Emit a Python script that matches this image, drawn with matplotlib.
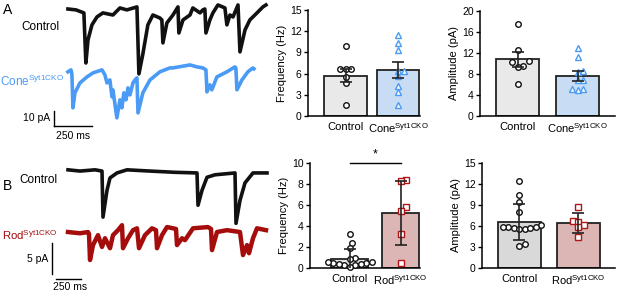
import numpy as np
import matplotlib
matplotlib.use("Agg")
import matplotlib.pyplot as plt

plt.rcParams['font.family'] = ['Liberation Sans', 'DejaVu Sans']
plt.rcParams['mathtext.fontset'] = 'custom'
plt.rcParams['mathtext.rm'] = 'Liberation Sans'

# ---------------- trace data (time ms, current pA) ----------------
ctrlA_t = [0, 53, 105, 118, 132, 158, 191, 230, 296, 342, 388, 454, 467, 493, 526, 559, 605, 618, 625, 651,
           691, 724, 730, 757, 803, 822, 869, 888, 901, 908, 934, 954, 987, 1033, 1046, 1066, 1086, 1119,
           1132, 1165, 1197, 1244, 1283, 1303]
ctrlA_i = [1.3, 0.7, -1.3, -34.7, -19.3, -9.3, -4.0, -1.3, -2.7, 2.0, 0.7, 2.7, -42.0, -28.7, -9.3, -2.7, -4.7,
           -6.0, -21.3, -8.0, -2.7, 2.7, -14.7, -6.0, -2.7, 2.0, -1.3, 0.7, 1.3, -14.7, -6.0, -1.3, 4.0, 2.0,
           -9.3, -2.7, -4.0, 4.0, -27.3, -12.7, -6.0, -1.3, 2.7, 4.0]
coneA_t = [0, 20, 26, 33, 46, 79, 125, 165, 224, 243, 257, 276, 290, 296, 322, 342, 355, 368, 382, 395, 408,
           428, 441, 454, 461, 493, 540, 605, 671, 691, 803, 849, 888, 908, 915, 934, 947, 980, 1046, 1099,
           1105, 1112, 1145, 1184, 1217, 1224]
coneA_i = [-1.3, 0.0, -2.7, -25.3, -15.3, -8.7, -4.7, -2.0, 0.0, -3.3, -8.7, -6.7, -18.0, -13.3, -32.0, -20.0,
           -25.3, -15.3, -20.0, -12.0, -16.7, -8.7, -6.7, -5.3, -28.7, -15.3, -6.7, -1.3, 1.3, 1.3, 3.3, 2.0,
           1.3, 0.0, -14.7, -10.0, -13.3, -4.7, -1.3, 2.0, 1.3, -13.3, -6.7, -1.3, 1.3, 0.7]
ctrlB_t = [0, 120, 270, 340, 350, 390, 420, 490, 590, 820, 1070, 1290, 1300, 1340, 1390, 1470, 1670, 1680,
           1720, 1770, 1850, 1990]
ctrlB_i = [0.2, 0.0, 0.2, 0.0, -7.4, -3.1, -1.1, -0.3, 0.2, 0.0, -0.2, -0.3, -5.5, -3.1, -1.0, -0.6, -0.3,
           -8.4, -4.7, -1.9, -0.3, -0.3]
rodB_t = [0, 120, 200, 210, 220, 250, 300, 340, 370, 420, 450, 500, 540, 550, 600, 650, 690, 710, 770, 840,
          880, 890, 940, 990, 1080, 1090, 1140, 1170, 1250, 1400, 1430, 1440, 1490, 1590, 1720, 1750, 1790,
          1810, 1850, 1890, 1980]
rodB_i = [0.0, -0.2, 0.0, -0.3, -4.5, -2.1, -0.5, -2.4, -1.0, -2.6, -0.5, 0.3, 1.1, -2.6, -1.0, 0.3, 0.6, -2.6,
          -0.5, 0.6, 0.3, -2.6, -0.5, 0.8, 0.5, -2.1, -1.0, -1.3, 0.6, 0.8, 0.5, -2.9, 0.0, 0.3, 0.0, -3.7,
          -2.1, -3.4, -1.0, 0.6, 0.3]

# ---------------- bar chart data ----------------
groupsA = ['Control', r'Cone$^{\mathrm{Syt1CKO}}$']
groupsB = ['Control', r'Rod$^{\mathrm{Syt1CKO}}$']

freqA_ctrl = [9.9, 6.6, 6.6, 6.6, 5.5, 4.6, 1.5]
freqA_cone = [11.4, 10.4, 9.4, 6.4, 6.4, 5.6, 4.3, 3.4, 1.6]
freqA_mean = [5.7, 6.5]
freqA_err = [0.9, 1.1]

ampA_ctrl = [17.5, 12.6, 10.4, 10.2, 9.5, 9.4, 6.1]
ampA_cone = [13.0, 11.3, 8.6, 8.4, 6.9, 6.8, 5.2, 4.9, 5.1]
ampA_mean = [10.8, 7.7]
ampA_err = [1.4, 0.95]

freqB_ctrl = [3.2, 2.4, 1.9, 1.0, 0.9, 0.55, 0.45, 0.35, 0.3, 0.3, 0.35, 0.45, 0.55, 0.05]
freqB_rod = [8.4, 8.3, 5.85, 5.4, 3.2, 0.47]
freqB_mean = [0.85, 5.25]
freqB_err = [1.0, 3.05]

ampB_ctrl = [12.4, 10.5, 9.4, 8.0, 6.2, 5.9, 5.8, 5.7, 5.6, 5.6, 5.7, 5.9, 3.5, 3.2]
ampB_rod = [8.7, 6.7, 6.6, 6.2, 5.8, 4.4]
ampB_mean = [6.55, 6.4]
ampB_err = [2.6, 1.45]

W, H = 617, 293
fig = plt.figure(figsize=(W / 100, H / 100), dpi=100)


def px_axes(x0, y0, x1, y1):
    return fig.add_axes([x0 / W, 1 - y1 / H, (x1 - x0) / W, (y1 - y0) / H])


BLACK = '#111111'
BLUE = '#4a9bf5'
RED = '#a50d0d'

# ---------------- Trace panel A ----------------
axA = px_axes(0, 0, 300, 145)
axA.set_xlim(-447, 1527)
axA.set_ylim(-89.4, 7.3)
axA.axis('off')
offA = -39.3
axA.plot(ctrlA_t, ctrlA_i, color=BLACK, lw=2.6)
axA.plot(coneA_t, np.array(coneA_i) + offA, color=BLUE, lw=2.6)
axA.plot([-92, -92], [-66.7, -76.7], color='k', lw=1.0, clip_on=False)
axA.plot([-92, 158], [-76.7, -76.7], color='k', lw=1.0, clip_on=False)
axA.text(-120, -71.4, '10 pA', ha='right', va='center', fontsize=7.5)
axA.text(33, -80, '250 ms', ha='center', va='top', fontsize=7.5)
axA.text(-53, -10.7, 'Control', ha='right', va='center', fontsize=8.5)
axA.text(-26, -47, r'Cone$^{\mathrm{Syt1CKO}}$', ha='right', va='center', fontsize=8.5, color=BLUE)

# ---------------- Trace panel B ----------------
axB = px_axes(0, 145, 300, 293)
axB.set_xlim(-680, 2320)
axB.set_ylim(-19.6, 4.19)
axB.axis('off')
offB = -9.8
axB.plot(ctrlB_t, ctrlB_i, color=BLACK, lw=2.6)
axB.plot(rodB_t, np.array(rodB_i) + offB, color=RED, lw=3.2)
axB.plot([-160, -160], [-11.6, -16.6], color='k', lw=1.0, clip_on=False)
axB.plot([-120, 130], [-17.4, -17.4], color='k', lw=1.0, clip_on=False)
axB.text(-200, -14.2, '5 pA', ha='right', va='center', fontsize=7.5)
axB.text(20, -17.9, '250 ms', ha='center', va='top', fontsize=7.5)
axB.text(-100, -1.45, 'Control', ha='right', va='center', fontsize=8.5)
axB.text(-100, -10.3, r'Rod$^{\mathrm{Syt1CKO}}$', ha='right', va='center', fontsize=8.2, color=RED)

fig.text(3 / W, 1 - 10 / H, 'A', fontsize=10, va='center', ha='left')
fig.text(3 / W, 1 - 186 / H, 'B', fontsize=10, va='center', ha='left')


def swarm(ax, vals, xc, diam_px):
    bbox = ax.get_position()
    ax_h = bbox.height * H
    ax_w = bbox.width * W
    y0, y1 = ax.get_ylim()
    x0, x1 = ax.get_xlim()
    ypx = [(v - y0) / (y1 - y0) * ax_h for v in vals]
    pxu = ax_w / (x1 - x0)
    placed = []
    xs = [0.0] * len(vals)
    order = np.argsort(ypx)
    cands = [0.0]
    for n in range(1, 20):
        cands += [n * diam_px * 0.5, -n * diam_px * 0.5]
    for i in order:
        for c in cands:
            ok = True
            for (px, py) in placed:
                if (px - c) ** 2 + (py - ypx[i]) ** 2 < diam_px ** 2:
                    ok = False
                    break
            if ok:
                placed.append((c, ypx[i]))
                xs[i] = xc + c / pxu
                break
    return xs


def bar_panel(ax, groups, means, errs, pts, colors, mcolors, markers, ylim, yticks, ylabel, xlim, width):
    ax.set_xlim(*xlim)
    ax.set_ylim(*ylim)
    ax.bar([0, 1], means, width=width, color=colors, edgecolor='#222222', linewidth=1.3, zorder=1)
    for i in range(2):
        ax.errorbar([i], [means[i]], yerr=[[errs[i]], [errs[i]]], color='#222222', capsize=4, elinewidth=1.2,
                    capthick=1.2, zorder=4, fmt='none')
        xs = swarm(ax, pts[i], i, 5.5)
        ax.plot(xs, pts[i], linestyle='none', marker=markers[i], markersize=4, markerfacecolor='white',
                markeredgecolor=mcolors[i], markeredgewidth=1.0, zorder=3, clip_on=False)
    ax.set_yticks(yticks)
    ax.set_xticks([0, 1])
    ax.set_xticklabels(groups, fontsize=8)
    ax.tick_params(axis='y', labelsize=7.5, length=3, width=1, pad=1.5)
    ax.tick_params(axis='x', length=0, pad=4)
    for s in ['top', 'right']:
        ax.spines[s].set_visible(False)
    for s in ['left', 'bottom']:
        ax.spines[s].set_linewidth(1.1)
    ax.set_ylabel(ylabel, fontsize=8, labelpad=2)


ax1 = px_axes(308, 10, 420, 116)
bar_panel(ax1, groupsA, freqA_mean, freqA_err, [freqA_ctrl, freqA_cone], ['#e9e9e9', '#c8dcf4'],
          ['#111111', BLUE], ['o', '^'], (0, 15), [0, 3, 6, 9, 12, 15], 'Frequency (Hz)', (-0.72, 1.42), 0.82)

ax2 = px_axes(480, 11, 615, 116)
bar_panel(ax2, groupsA, ampA_mean, ampA_err, [ampA_ctrl, ampA_cone], ['#e9e9e9', '#c8dcf4'],
          ['#111111', BLUE], ['o', '^'], (0, 20), [0, 4, 8, 12, 16, 20], 'Amplitude (pA)', (-0.63, 1.62), 0.72)

ax3 = px_axes(310, 163, 420, 268)
bar_panel(ax3, groupsB, freqB_mean, freqB_err, [freqB_ctrl, freqB_rod], ['#e4e4e4', '#dcb5b5'],
          ['#111111', '#b01515'], ['o', 's'], (0, 10), [0, 2, 4, 6, 8, 10], 'Frequency (Hz)', (-0.78, 1.38), 0.72)
ax3.plot([0, 1], [10.0, 10.0], color='k', lw=1.0, clip_on=False)
ax3.text(0.5, 10.25, '*', ha='center', va='bottom', fontsize=9)

ax4 = px_axes(482, 163, 615, 268)
bar_panel(ax4, groupsB, ampB_mean, ampB_err, [ampB_ctrl, ampB_rod], ['#d9d9d9', '#dcb5b5'],
          ['#111111', '#b01515'], ['o', 's'], (0, 15), [0, 3, 6, 9, 12, 15], 'Amplitude (pA)', (-0.63, 1.62), 0.72)

fig.savefig('out.png', dpi=100)
